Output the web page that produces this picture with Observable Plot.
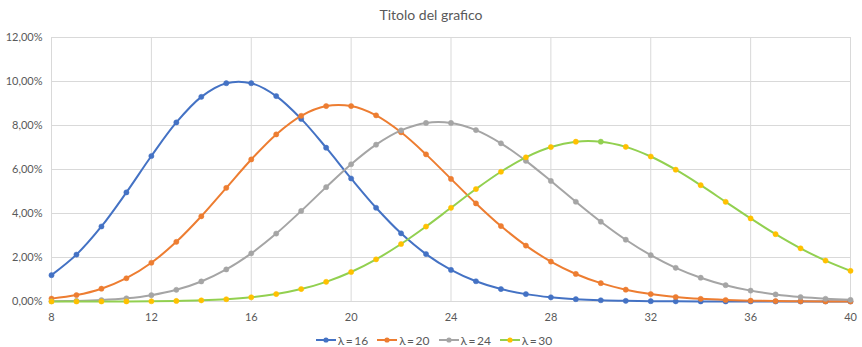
<!DOCTYPE html>
<html>
<head>
<meta charset="utf-8">
<script src="https://cdn.jsdelivr.net/npm/d3@7"></script>
<script src="https://cdn.jsdelivr.net/npm/@observablehq/plot@0.6"></script>
<style>
  html, body { margin: 0; padding: 0; background: #fff; }
  body { width: 862px; height: 347px; overflow: hidden; font-family: Lato, "Open Sans", sans-serif; }
  #title { height: 30px; line-height: 30px; text-align: center; font-size: 14px; color: #595959; }
  #chart svg { display: block; }
  #legend { height: 22px; margin-top: 4px; display: flex; justify-content: center; align-items: center; gap: 9px; font-size: 12px; color: #595959; padding-left: 6px; }
  #legend .item { display: flex; align-items: center; gap: 2px; }
</style>
</head>
<body>
<div id="title">Titolo del grafico</div>
<div id="chart"></div>
<div id="legend"></div>
<script>
// Poisson probabilities P(X = k) for several values of λ
const k = [8, 9, 10, 11, 12, 13, 14, 15, 16, 17, 18, 19, 20, 21, 22, 23, 24,
           25, 26, 27, 28, 29, 30, 31, 32, 33, 34, 35, 36, 37, 38, 39, 40];

const lambda16 = [0.011988, 0.021311, 0.034098, 0.049597, 0.066129, 0.081389, 0.093016, 0.099218, 0.099218,
                  0.093381, 0.083006, 0.069899, 0.055920, 0.042605, 0.030986, 0.021555, 0.014370,
                  0.0091969, 0.0056597, 0.0033539, 0.0019165, 0.0010574, 0.00056394, 0.00029106, 0.00014553,
                  0.000070561, 0.000033205, 0.000015180, 0.0000067464, 0.0000029174, 0.0000012284, 0.00000050394, 0.00000020158];

const lambda20 = [0.0013087, 0.0029082, 0.0058163, 0.010575, 0.017625, 0.027116, 0.038737, 0.051649, 0.064561,
                  0.075954, 0.084394, 0.088835, 0.088835, 0.084605, 0.076914, 0.066882, 0.055735,
                  0.044588, 0.034298, 0.025406, 0.018147, 0.012515, 0.0083435, 0.0053829, 0.0033643,
                  0.0020390, 0.0011994, 0.00068538, 0.00038077, 0.00020582, 0.00010833, 0.000055552, 0.000027776];

const lambda24 = [0.00010306, 0.00027484, 0.00065961, 0.0014392, 0.0028783, 0.0053138, 0.0091093, 0.014575, 0.021862,
                  0.030865, 0.041153, 0.051982, 0.062379, 0.071290, 0.077771, 0.081152, 0.081152,
                  0.077906, 0.071913, 0.063923, 0.054791, 0.045344, 0.036275, 0.028084, 0.021063,
                  0.015319, 0.010813, 0.0074148, 0.0049432, 0.0032064, 0.0020251, 0.0012462, 0.00074773];

const lambda30 = [0.0000015227, 0.0000050757, 0.000015227, 0.000041528, 0.00010382, 0.00023959, 0.00051340, 0.0010268, 0.0019252,
                  0.0033975, 0.0056625, 0.0089407, 0.013411, 0.019159, 0.026126, 0.034077, 0.042596,
                  0.051115, 0.058979, 0.065532, 0.070213, 0.072634, 0.072634, 0.070291, 0.065898,
                  0.059907, 0.052859, 0.045308, 0.037757, 0.030613, 0.024169, 0.018591, 0.013943];

const seriesNames = ["λ\u2009=\u200916", "λ\u2009=\u200920", "λ\u2009=\u200924", "λ\u2009=\u200930"];
const seriesValues = [lambda16, lambda20, lambda24, lambda30];
const lineColors = ["#4472C4", "#ED7D31", "#A5A5A5", "#92D050"];
const dotColors = ["#4472C4", "#ED7D31", "#A5A5A5", "#FFC000"];

const xTicks = [8, 12, 16, 20, 24, 28, 32, 36, 40];
const yTicks = [0, 0.02, 0.04, 0.06, 0.08, 0.10, 0.12];

const rows = seriesValues.flatMap((vals, s) =>
  vals.map((p, i) => ({k: k[i], p, series: seriesNames[s],
    // the λ=30 point at k=30 keeps its line colour as marker fill
    dot: (s === 3 && k[i] === 30) ? lineColors[3] : dotColors[s]})));

const it = d3.formatLocale({decimal: ",", thousands: ".", grouping: [3], currency: ["€", ""]});
const pct = it.format(".2%");

const chart = Plot.plot({
  width: 862,
  height: 295,
  marginTop: 7,
  marginBottom: 24,
  marginLeft: 51,
  marginRight: 12,
  style: {fontFamily: "Lato, 'Open Sans', sans-serif", fontSize: "11px", color: "#595959", background: "#fff"},
  x: {domain: [8, 40], label: null},
  y: {domain: [0, 0.12], label: null},
  color: {domain: seriesNames, range: lineColors},
  marks: [
    Plot.gridX(xTicks, {stroke: "#d9d9d9", strokeOpacity: 1, strokeWidth: 1}),
    Plot.gridY(yTicks, {stroke: "#d9d9d9", strokeOpacity: 1, strokeWidth: 1}),
    Plot.ruleY([0], {stroke: "#d9d9d9", strokeWidth: 1}),
    Plot.axisX(xTicks, {tickSize: 0, tickPadding: 12, tickFormat: d => String(d), fontSize: 11, fill: "#595959", label: null}),
    Plot.axisY(yTicks, {tickSize: 0, tickPadding: 9, tickFormat: pct, fontSize: 11, fill: "#595959", label: null}),
    Plot.line(rows, {x: "k", y: "p", z: "series", stroke: "series", strokeWidth: 2, curve: "catmull-rom"}),
    Plot.dot(rows, {x: "k", y: "p", fill: "dot", stroke: "dot", r: 2.6, strokeWidth: 0.5})
  ]
});
document.getElementById("chart").appendChild(chart);

// legend: line-with-marker swatch followed by the series label
const legend = d3.select("#legend");
seriesNames.forEach((name, i) => {
  const item = legend.append("div").attr("class", "item");
  const sw = item.append("svg").attr("width", 20).attr("height", 10);
  sw.append("line").attr("x1", 0).attr("x2", 20).attr("y1", 5).attr("y2", 5)
    .attr("stroke", lineColors[i]).attr("stroke-width", 2);
  sw.append("circle").attr("cx", 10).attr("cy", 5).attr("r", 2.6).attr("fill", dotColors[i]);
  item.append("span").text(name);
});
</script>
</body>
</html>
